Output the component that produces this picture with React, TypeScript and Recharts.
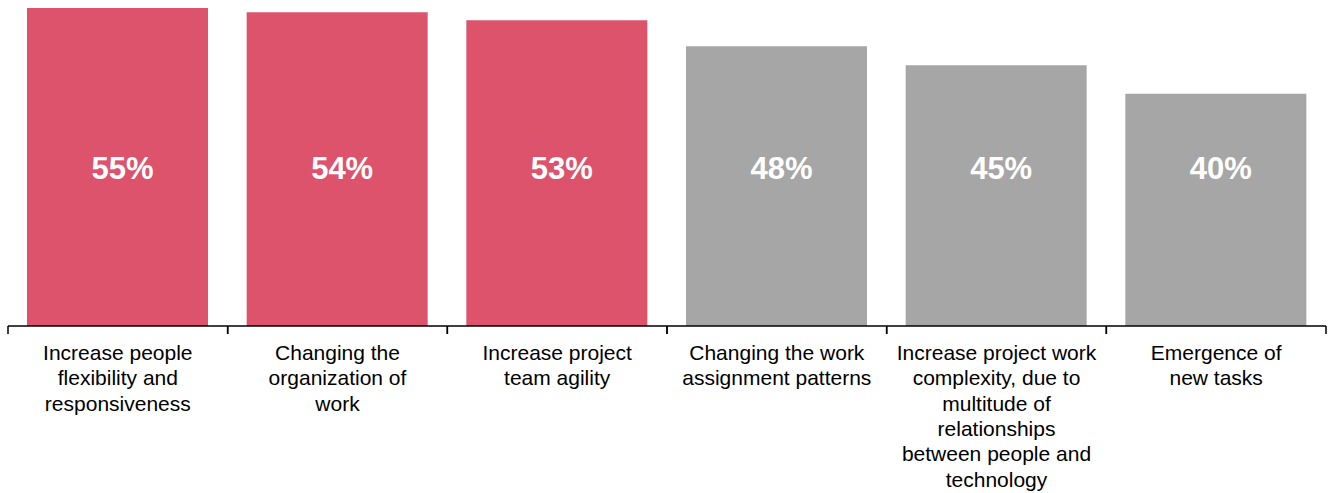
import { BarChart, Bar, XAxis, YAxis, Cell, LabelList } from 'recharts'

const categorias = [
  'Increase people\nflexibility and\nresponsiveness',
  'Changing the\norganization of\nwork',
  'Increase project\nteam agility',
  'Changing the work\nassignment patterns',
  'Increase project work\ncomplexity, due to\nmultitude of\nrelationships\nbetween people and\ntechnology',
  'Emergence of\nnew tasks',
]
const valores = [55, 54.3, 52.9, 48.4, 45.1, 40.2]
const etiquetas = ['55%', '54%', '53%', '48%', '45%', '40%']

const ROJO = '#DC536B'
const GRIS = '#A6A6A6'
const FUENTE = '"Liberation Sans", Arial, sans-serif'

const datos = categorias.map((c, i) => ({
  categoria: c,
  valor: valores[i],
  etiqueta: etiquetas[i],
}))

function TickCategoria(props: any) {
  const { x, y, payload } = props
  const medio = payload?.offset ?? 0
  const lineas = String(payload.value).split('\n')
  return (
    <g>
      <line x1={x - medio} x2={x - medio} y1={y} y2={y + 8} stroke="#000" strokeWidth={1.5} />
      <line x1={x + medio} x2={x + medio} y1={y} y2={y + 8} stroke="#000" strokeWidth={1.5} />
      <text x={x} y={y + 34} textAnchor="middle" fill="#000" fontSize={21} fontFamily={FUENTE}>
        {lineas.map((l, i) => (
          <tspan key={i} x={x} dy={i === 0 ? 0 : 25.3}>
            {l}
          </tspan>
        ))}
      </text>
    </g>
  )
}

function EtiquetaBarra(props: any) {
  const { x, y, width, height, value } = props
  return (
    <text
      x={x + width / 2 + 5}
      y={y + height - 147}
      textAnchor="middle"
      fill="#fff"
      fontSize={31}
      fontWeight="bold"
      fontFamily={FUENTE}
    >
      {value}
    </text>
  )
}

export default function App() {
  return (
    <div style={{ position: 'absolute', left: 0, top: 0, background: '#fff' }}>
      <BarChart
        width={1332}
        height={493}
        data={datos}
        margin={{ top: 0, right: 6, bottom: 0, left: 8 }}
      >
        <XAxis
          dataKey="categoria"
          height={167}
          interval={0}
          tickSize={0}
          tickMargin={0}
          tickLine={false}
          axisLine={{ stroke: '#000', strokeWidth: 1.5 }}
          tick={<TickCategoria />}
        />
        <YAxis hide domain={[0, 56.4]} />
        <Bar dataKey="valor" barSize={181} isAnimationActive={false}>
          {datos.map((d, i) => (
            <Cell key={i} fill={i < 3 ? ROJO : GRIS} />
          ))}
          <LabelList dataKey="etiqueta" content={<EtiquetaBarra />} />
        </Bar>
      </BarChart>
    </div>
  )
}
